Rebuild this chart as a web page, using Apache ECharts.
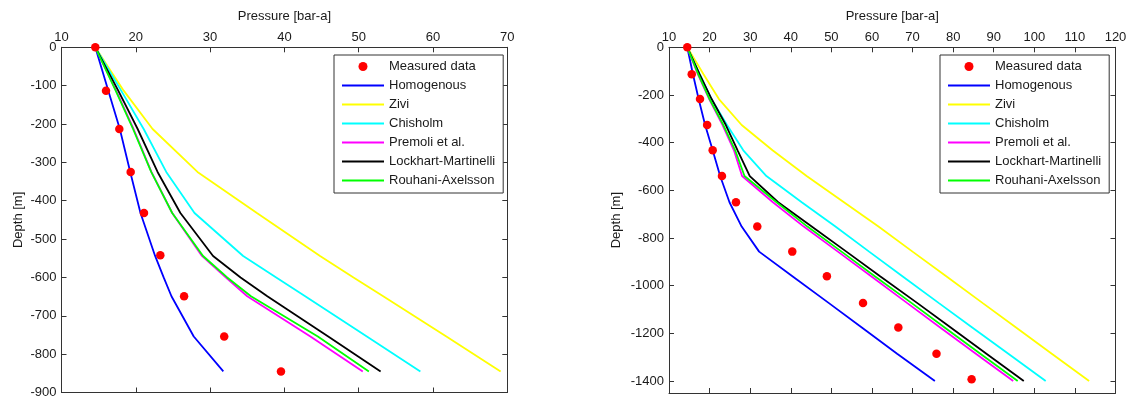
<!DOCTYPE html>
<html><head><meta charset="utf-8">
<script src="https://cdn.jsdelivr.net/npm/echarts@6/dist/echarts.min.js"></script>
<style>html,body{margin:0;padding:0;background:#fff}#c{width:1131px;height:399px}</style>
</head><body><div id="c"></div>
<script>
// ---------- DATA ----------
const seriesNames = ['Measured data','Homogenous','Zivi','Chisholm','Premoli et al.','Lockhart-Martinelli','Rouhani-Axelsson'];
const seriesColors = ['#ff0000','#0000ff','#ffff00','#00ffff','#ff00ff','#000000','#00ff00'];

// Left chart
const pressureTicksLeft = [10,20,30,40,50,60,70];
const depthTicksLeft = [0,-100,-200,-300,-400,-500,-600,-700,-800,-900];
const measuredLeftP = [14.55, 15.99, 17.78, 19.31, 21.1, 23.3, 26.5, 31.9, 39.54];
const measuredLeftD = [0, -113, -213, -325, -432, -542, -649, -754, -845];
const depthLeft   = [0, -113, -213, -325, -432, -544, -600, -649, -754, -845];
const homogLeft   = [14.55, 16.3, 17.85, 19.25, 20.63, 22.6, 23.75, 24.8, 27.8, 31.78];
const ziviLeft    = [14.55, 18.37, 22.26, 28.3, 36.3, 44.8, 49.3, 53.3, 61.8, 69.1];
const chisLeft    = [14.55, 18.03, 21.06, 24.1, 27.9, 34.45, 38.9, 42.8, 51.1, 58.3];
const premLeft    = [14.55, 17.35, 19.7, 22.1, 24.9, 28.9, 32.1, 35.0, 43.5, 50.55];
const lockLeft    = [14.55, 17.64, 20.25, 22.93, 26.0, 30.4, 34.1, 37.7, 45.9, 52.95];
const rouhLeft    = [14.55, 17.29, 19.63, 22.07, 24.9, 29.05, 32.3, 35.5, 44.5, 51.37];

// Right chart
const pressureTicksRight = [10,20,30,40,50,60,70,80,90,100,110,120];
const depthTicksRight = [0,-200,-400,-600,-800,-1000,-1200,-1400];
const measuredRightP = [14.5, 15.6, 17.64, 19.4, 20.76, 23.05, 26.5, 31.75, 40.37, 48.9, 57.8, 66.5, 75.9, 84.55];
const measuredRightD = [0, -113, -217, -326, -432, -540, -650, -752, -857, -960, -1073, -1175, -1285, -1392];
const depthRight  = [0, -113, -217, -326, -432, -540, -650, -752, -857, -960, -1073, -1175, -1285, -1400];
const homogRight  = [14.5, 15.9, 17.3, 18.9, 20.76, 22.6, 24.9, 27.9, 32.2, 40.4, 49.4, 57.5, 66.2, 75.5];
const ziviRight   = [14.5, 18.5, 22.3, 27.9, 35.5, 43.9, 53.1, 61.6, 70.0, 78.3, 87.3, 95.5, 104.3, 113.5];
const chisRight   = [14.5, 17.56, 20.45, 24.3, 28.3, 34.0, 42.7, 51.0, 59.3, 67.5, 76.5, 84.7, 93.6, 102.8];
const premRight   = [14.5, 17.1, 19.9, 23.2, 26.0, 28.0, 35.6, 43.2, 51.6, 59.8, 68.7, 76.8, 85.6, 94.8];
const lockRight   = [14.5, 17.53, 20.5, 24.0, 26.9, 29.9, 36.9, 45.15, 53.7, 62.0, 71.2, 79.4, 88.2, 97.4];
const rouhRight   = [14.5, 17.2, 20.0, 23.4, 26.3, 28.6, 36.5, 44.1, 52.5, 60.7, 69.8, 77.9, 86.7, 95.9];

// ---------- CHART ----------
const FONT = '"Liberation Sans", Arial, Helvetica, sans-serif';
const AXIS = '#333333';
const TXT = '#1a1a1a';
const pairs = (p, d) => p.map((v, i) => [v, d[i]]);
const plain = v => String(v);

function xAxes(grid, ticks) {
  const base = {
    gridIndex: grid, type: 'value', min: ticks[0], max: ticks[ticks.length - 1], interval: ticks[1] - ticks[0],
    axisLine: { show: true, onZero: false, lineStyle: { color: AXIS, width: 1 } },
    axisTick: { show: true, inside: true, length: 5, lineStyle: { color: AXIS } },
    splitLine: { show: false }
  };
  return [
    Object.assign({}, base, {
      position: 'top', name: 'Pressure [bar-a]', nameLocation: 'middle', nameGap: 24,
      nameTextStyle: { fontSize: 13, color: TXT, fontFamily: FONT },
      axisLabel: { margin: 3, fontSize: 13, color: TXT, fontFamily: FONT, formatter: plain }
    }),
    Object.assign({}, base, { position: 'bottom', axisLabel: { show: false } })
  ];
}
function yAxes(grid, ticks, min, gap) {
  const base = {
    gridIndex: grid, type: 'value', min: min, max: 0,
    axisLine: { show: true, onZero: false, lineStyle: { color: AXIS, width: 1 } },
    axisTick: { show: true, inside: true, length: 5, lineStyle: { color: AXIS }, customValues: ticks },
    splitLine: { show: false }
  };
  return [
    Object.assign({}, base, {
      position: 'left', name: 'Depth [m]', nameLocation: 'middle', nameGap: gap,
      nameTextStyle: { fontSize: 13, color: TXT, fontFamily: FONT },
      axisLabel: { margin: 5, fontSize: 13, color: TXT, fontFamily: FONT, customValues: ticks, formatter: plain }
    }),
    Object.assign({}, base, { position: 'right', axisLabel: { show: false } })
  ];
}

function seriesFor(xi, yi, mP, mD, depth, models) {
  const out = [];
  models.forEach((m, k) => {
    out.push({
      name: seriesNames[k + 1], type: 'line', xAxisIndex: xi, yAxisIndex: yi,
      data: pairs(m, depth), symbol: 'none', showSymbol: false, z: 2,
      lineStyle: { color: seriesColors[k + 1], width: 1.8 },
      itemStyle: { color: seriesColors[k + 1] }, animation: false
    });
  });
  out.push({
    name: seriesNames[0], type: 'scatter', xAxisIndex: xi, yAxisIndex: yi,
    data: pairs(mP, mD), symbol: 'circle', symbolSize: 8.5, z: 5,
    itemStyle: { color: seriesColors[0], opacity: 1 }, animation: false
  });
  return out;
}

function legendFor(left) {
  return {
    orient: 'vertical', left: left, top: 55,
    padding: [4, 8, 5, 8], itemGap: 4, itemWidth: 42, itemHeight: 9,
    backgroundColor: '#ffffff', borderColor: AXIS, borderWidth: 1, borderRadius: 0,
    selectedMode: false,
    textStyle: { fontSize: 13, color: TXT, fontFamily: FONT, lineHeight: 15 },
    data: seriesNames.map((n, i) => i === 0
      ? { name: n, icon: 'circle', itemStyle: { opacity: 1 } }
      : { name: n, icon: 'path://M0,0h40v2h-40z' })
  };
}

const chart = echarts.init(document.getElementById('c'), null, { renderer: 'canvas' });
chart.setOption({
  animation: false,
  backgroundColor: '#ffffff',
  grid: [
    { left: 61.5, right: 623.7, top: 47.3, bottom: 6 },
    { left: 669, right: 15.5, top: 47.3, bottom: 6 }
  ],
  xAxis: [].concat(xAxes(0, pressureTicksLeft), xAxes(1, pressureTicksRight)),
  yAxis: [].concat(yAxes(0, depthTicksLeft, -900, 37), yAxes(1, depthTicksRight, -1450, 46)),
  legend: [legendFor(334), legendFor(940)],
  series: [].concat(
    seriesFor(0, 0, measuredLeftP, measuredLeftD, depthLeft, [homogLeft, ziviLeft, chisLeft, premLeft, lockLeft, rouhLeft]),
    seriesFor(2, 2, measuredRightP, measuredRightD, depthRight, [homogRight, ziviRight, chisRight, premRight, lockRight, rouhRight])
  )
});
</script></body></html>
